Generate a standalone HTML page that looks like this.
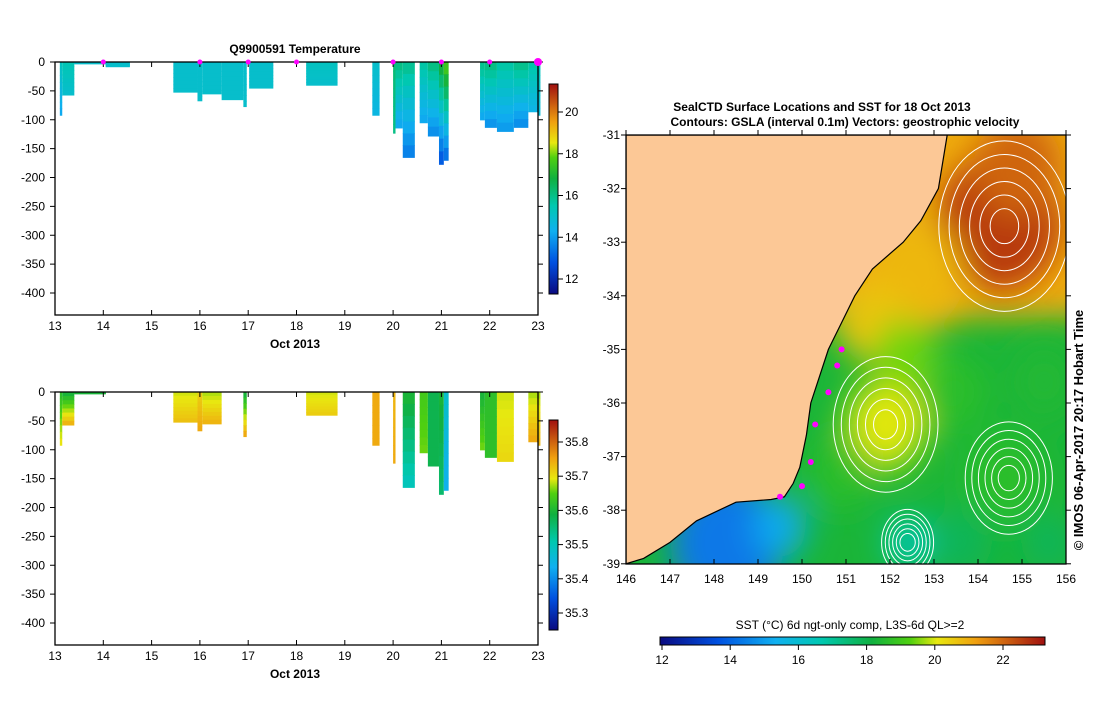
<!DOCTYPE html>
<html><head><meta charset="utf-8">
<style>
body{margin:0;background:#fff;width:1099px;height:700px;overflow:hidden;font-family:"Liberation Sans",sans-serif}
svg text{font-family:"Liberation Sans",sans-serif}
</style></head>
<body>
<svg id="s" width="1099" height="700" xmlns="http://www.w3.org/2000/svg">
<defs>
<clipPath id="mapclip"><rect x="626" y="135" width="440" height="429"/></clipPath>
<filter id="blur" x="-50%" y="-50%" width="200%" height="200%"><feGaussianBlur stdDeviation="16"/></filter>
<linearGradient id="sstbar" x1="0" x2="1" y1="0" y2="0">
<stop offset="0" stop-color="#0a0a80"/><stop offset="0.15" stop-color="#0050e0"/><stop offset="0.3" stop-color="#10b0f0"/><stop offset="0.42" stop-color="#00c8b0"/><stop offset="0.55" stop-color="#10b040"/><stop offset="0.65" stop-color="#50d010"/><stop offset="0.72" stop-color="#e8e810"/><stop offset="0.82" stop-color="#f0a010"/><stop offset="1" stop-color="#a01010"/>
</linearGradient>
<linearGradient id="vbar" x1="0" x2="0" y1="1" y2="0">
<stop offset="0" stop-color="#0a0a80"/><stop offset="0.15" stop-color="#0050e0"/><stop offset="0.3" stop-color="#10b0f0"/><stop offset="0.42" stop-color="#00c8b0"/><stop offset="0.55" stop-color="#10b040"/><stop offset="0.65" stop-color="#50d010"/><stop offset="0.72" stop-color="#e8e810"/><stop offset="0.82" stop-color="#f0a010"/><stop offset="1" stop-color="#a01010"/>
</linearGradient>
</defs>
<g id="top"></g>
<g id="bot"></g>
<g id="map"></g>
</svg>
<script>
const NS="http://www.w3.org/2000/svg";
function mk(p,tag,a,txt){const e=document.createElementNS(NS,tag);for(const k in a)e.setAttribute(k,a[k]);if(txt!==undefined)e.textContent=txt;p.appendChild(e);return e;}
// ---- profile data ----
const colStart=[13.1,13.15,13.4,14.05,15.45,15.95,16.05,16.45,16.9,17.02,18.2,19.57,20.0,20.05,20.2,20.55,20.72,20.95,21.05,21.8,21.9,22.15,22.5,22.8,23.0];
const colEnd=  [13.15,13.4,14.05,14.55,15.95,16.05,16.45,16.9,16.97,17.52,18.85,19.72,20.05,20.2,20.45,20.72,20.95,21.05,21.15,21.9,22.15,22.5,22.8,23.0,23.05];
const colDepth=[92,57,3,8,52,67,55,65,77,45,40,92,123,114,165,105,128,177,170,100,113,120,113,86,92];
const tempTop=[15.2,15.4,15.0,15.0,15.0,15.0,15.0,15.0,15.0,15.0,15.2,15.0,16.2,16.0,15.8,15.6,16.0,16.8,17.5,15.9,16.0,15.6,15.9,15.6,15.3];
const tempBot=[14.2,15.0,15.0,15.0,15.0,15.0,15.0,15.0,15.0,15.0,15.0,14.6,16.0,14.2,13.6,14.2,13.8,13.0,13.4,14.2,13.9,14.0,13.8,14.5,14.8];
const salCols=[0,1,2,4,5,6,8,10,11,12,14,15,16,17,18,19,20,21,23,24];
const salTop=[35.62,35.60,35.60,35.69,35.72,35.68,35.60,35.69,35.75,35.74,35.60,35.64,35.58,35.60,35.48,35.60,35.62,35.69,35.68,35.68];
const salBot=[35.70,35.74,35.60,35.73,35.75,35.74,35.75,35.72,35.75,35.75,35.50,35.66,35.58,35.56,35.44,35.66,35.62,35.71,35.75,35.74];
const markerDays=[14,16,17,18,20,21,22,23];
const xTicks=[13,14,15,16,17,18,19,20,21,22,23];
const yTicks=[0,-50,-100,-150,-200,-250,-300,-350,-400];
const stops=[[0,[10,10,128]],[0.15,[0,80,224]],[0.3,[16,176,240]],[0.42,[0,200,176]],[0.55,[16,176,64]],[0.65,[80,208,16]],[0.72,[232,232,16]],[0.82,[240,160,16]],[1,[160,16,16]]];
function cmap(t){t=Math.max(0,Math.min(1,t));for(let i=1;i<stops.length;i++){if(t<=stops[i][0]){const a=stops[i-1],b=stops[i];const f=(t-a[0])/(b[0]-a[0]);const c=a[1].map((v,j)=>Math.round(v+(b[1][j]-v)*f));return `rgb(${c})`;}}return 'rgb(160,16,16)';}

function panel(g,y0,title,cols,tops,bots,vmin,vmax,cbTicks,cbLabels,markers){
  const X=d=>55+(d-13)*48.3, Y=z=>y0-z*0.5775;
  const yb=y0+253;
  if(title) mk(g,'text',{x:295,y:y0-9,'font-size':12,'font-weight':'bold','text-anchor':'middle',},title);
  cols.forEach((c,i)=>{
    const x1=X(colStart[c]),x2=X(colEnd[c]),d=colDepth[c],n=8;
    for(let k=0;k<n;k++){
      const v=tops[i]+(bots[i]-tops[i])*k/(n-1);
      const r=mk(g,'rect',{x:x1,y:Y(-d*k/n),width:Math.max(1,x2-x1),height:d*0.5775/n+0.6,fill:cmap((v-vmin)/(vmax-vmin))});
      
      
    }
  });
  mk(g,'rect',{x:55,y:y0,width:483,height:yb-y0,fill:'none',stroke:'#000','stroke-width':1.3,});
  xTicks.forEach(t=>{const x=X(t);mk(g,'line',{x1:x,x2:x,y1:yb,y2:yb-5,stroke:'#000'});mk(g,'line',{x1:x,x2:x,y1:y0,y2:y0+5,stroke:'#000'});
    const l=mk(g,'text',{x:x,y:yb+15,'font-size':12,'text-anchor':'middle'},t);});
  yTicks.forEach(t=>{const y=Y(t);mk(g,'line',{x1:50,x2:55,y1:y,y2:y,stroke:'#000'});mk(g,'line',{x1:538,x2:543,y1:y,y2:y,stroke:'#000'});
    const l=mk(g,'text',{x:45,y:y+4,'font-size':12,'text-anchor':'end'},t);});
  mk(g,'text',{x:295,y:yb+33,'font-size':12,'font-weight':'bold','text-anchor':'middle',},'Oct 2013');
  if(markers) markers.forEach(m=>{const c=mk(g,'circle',{cx:X(m),cy:y0,r:m==23?4:2.5,fill:'#ff00ff'});});
  const cb=cbTicks;
  mk(g,'rect',{x:549,y:cb.top,width:9,height:cb.bot-cb.top,fill:'url(#vbar)',stroke:'#000',});
  cbLabels.forEach((v,i)=>{const y=cb.y0+(cb.y1-cb.y0)*i/(cbLabels.length-1);mk(g,'line',{x1:558,x2:563,y1:y,y2:y,stroke:'#000'});
    const l=mk(g,'text',{x:565,y:y+4,'font-size':12},v);});
}
panel(document.getElementById('top'),62,'Q9900591   Temperature',colStart.map((_,i)=>i),tempTop,tempBot,11.3,21.3,{top:84,bot:294,y0:112,y1:279},[20,18,16,14,12],markerDays);
panel(document.getElementById('bot'),392,null,salCols,salTop,salBot,35.25,35.87,{top:420,bot:630,y0:442,y1:613},[35.8,35.7,35.6,35.5,35.4,35.3],null);

// ---- map ----
const lonTicks=[146,147,148,149,150,151,152,153,154,155,156];
const latTicks=[-31,-32,-33,-34,-35,-36,-37,-38,-39];
const coastLon=[153.3,153.1,152.7,152.3,151.6,151.2,150.9,150.6,150.4,150.2,150.1,149.95,149.8,149.6,149.3,148.5,147.6,147.0,146.4,146.0];
const coastLat=[-31,-32,-32.6,-33.0,-33.5,-34.0,-34.5,-35.0,-35.5,-36.0,-36.6,-37.2,-37.5,-37.75,-37.8,-37.85,-38.2,-38.6,-38.9,-39.0];
const patchLon=[154.5,154.9,152.6,151.9,150.9,148.3,149.5,152.4,154.6,155.5,153.4,151.6,153.6,155.6,152.3];
const patchLat=[-32.6,-31.6,-33.6,-36.4,-37.3,-38.6,-38.3,-38.6,-37.4,-35.6,-35.8,-34.5,-38.6,-38.6,-35.1];
const patchSST=[22.6,22.0,20.8,20.0,18.6,14.3,15.2,16.6,18.6,18.4,18.6,20.6,17.8,17.8,19.4];
const patchR=[1.4,1.0,1.1,0.9,0.7,1.3,0.6,0.5,0.9,0.8,0.8,0.8,0.7,0.6,0.7];
const SMIN=11.9,SMAX=23.2;
const MX=l=>626+(l-146)*44, MY=l=>135+(-31-l)*53.6;
const mg=document.getElementById('map');
mk(mg,'text',{x:822,y:111,'font-size':12,'font-weight':'bold','text-anchor':'middle',},'SealCTD Surface Locations and SST for 18 Oct 2013');
mk(mg,'text',{x:845,y:126,'font-size':12,'font-weight':'bold','text-anchor':'middle',},'Contours: GSLA (interval 0.1m) Vectors: geostrophic velocity');
const cg=mk(mg,'g',{'clip-path':'url(#mapclip)'});
mk(cg,'rect',{x:600,y:110,width:500,height:500,fill:cmap((18.3-SMIN)/(SMAX-SMIN))});
mk(cg,'rect',{x:600,y:80,width:500,height:MY(-34.4)-80,fill:cmap((21.0-SMIN)/(SMAX-SMIN)),filter:'url(#blur)'});
const pg=mk(cg,'g',{filter:'url(#blur)'});
patchLon.forEach((l,i)=>{const e=mk(pg,'ellipse',{cx:MX(l),cy:MY(patchLat[i]),rx:patchR[i]*44,ry:patchR[i]*50,fill:cmap((patchSST[i]-SMIN)/(SMAX-SMIN))});});
const wg=mk(cg,'g',{fill:'none',stroke:'#fff','stroke-width':1});
[[154.6,-32.7,1.4],[151.9,-36.4,1.1],[154.7,-37.4,0.9],[152.4,-38.6,0.5]].forEach(c=>{for(let k=1;k<=6;k++){mk(wg,'ellipse',{cx:MX(c[0]),cy:MY(c[1]),rx:c[2]*44*k/6+4,ry:c[2]*58*k/6+4});}});
let pts=coastLon.map((l,i)=>MX(l)+','+MY(coastLat[i])).join(' ');
pts+=' '+MX(146)+','+MY(-39)+' '+MX(146)+','+MY(-31);
mk(cg,'polygon',{points:pts,fill:'#fcc896',stroke:'#000','stroke-width':1.2,});
[[150.9,-35.0],[150.8,-35.3],[150.6,-35.8],[150.3,-36.4],[150.2,-37.1],[150.0,-37.55],[149.5,-37.75]].forEach(p=>{const c=mk(cg,'circle',{cx:MX(p[0]),cy:MY(p[1]),r:3,fill:'#ff00ff'});});
mk(mg,'rect',{x:626,y:135,width:440,height:429,fill:'none',stroke:'#000','stroke-width':1.3,});
lonTicks.forEach(t=>{const x=MX(t);mk(mg,'line',{x1:x,x2:x,y1:564,y2:559,stroke:'#000'});mk(mg,'line',{x1:x,x2:x,y1:135,y2:130,stroke:'#000'});
  const l=mk(mg,'text',{x:x,y:583,'font-size':12,'text-anchor':'middle'},t);});
latTicks.forEach(t=>{const y=MY(t);mk(mg,'line',{x1:621,x2:626,y1:y,y2:y,stroke:'#000'});mk(mg,'line',{x1:1066,x2:1071,y1:y,y2:y,stroke:'#000'});
  const l=mk(mg,'text',{x:620,y:y+4,'font-size':12,'text-anchor':'end'},t);});
mk(mg,'text',{x:0,y:0,'font-size':13,'font-weight':'bold','text-anchor':'middle',transform:'translate(1083,430) rotate(-90)',},'© IMOS 06-Apr-2017 20:17 Hobart Time');
mk(mg,'text',{x:850,y:629,'font-size':12,'text-anchor':'middle',},'SST (°C) 6d ngt-only comp, L3S-6d QL>=2');
mk(mg,'rect',{x:660,y:637,width:385,height:8,fill:'url(#sstbar)',stroke:'#000',});
[12,14,16,18,20,22].forEach(v=>{const x=662+(v-12)*34.1;mk(mg,'line',{x1:x,x2:x,y1:645,y2:650,stroke:'#000'});
  const l=mk(mg,'text',{x:x,y:664,'font-size':12,'text-anchor':'middle'},v);});
</script>
</body></html>
